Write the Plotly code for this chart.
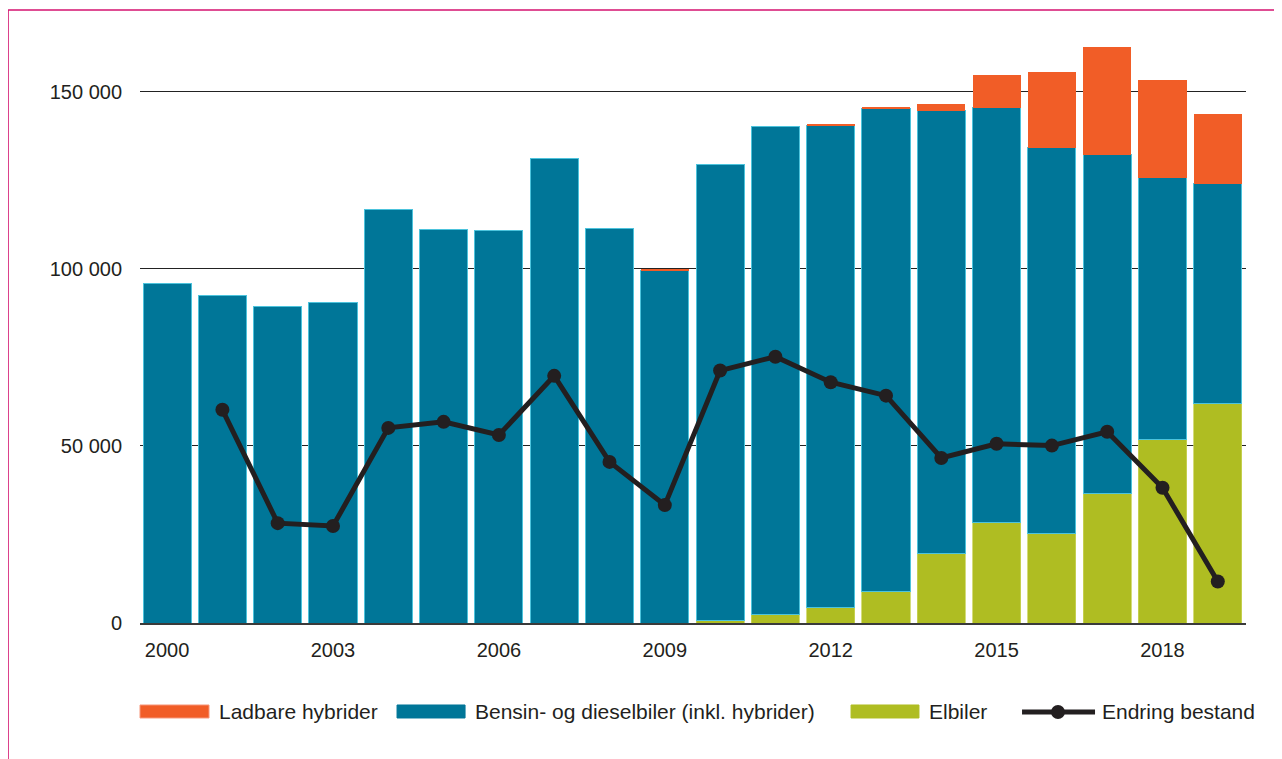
import plotly.graph_objects as go

years = list(range(2000, 2020))
elbiler = [0, 0, 0, 0, 0, 0, 0, 0, 0, 0, 700, 2300, 4500, 9000, 19500, 28500, 25400, 36700, 51700, 62100]
bensin_diesel = [95800, 92400, 89500, 90400, 116700, 111000, 110700, 131100, 111300, 99500,
                 128700, 137800, 135900, 136200, 125100, 117000, 108800, 95500, 74000, 61900]
ladbare = [0, 0, 0, 0, 0, 0, 0, 0, 0, 400, 0, 0, 600, 600, 2000, 9300, 21400, 30500, 27700, 19800]
endring_years = list(range(2001, 2020))
endring = [60200, 28200, 27400, 55100, 56800, 53100, 69800, 45500, 33300, 71300,
           75200, 68000, 64200, 46600, 50600, 50100, 54000, 38200, 11700]
xtick_vals = [2000, 2003, 2006, 2009, 2012, 2015, 2018]
ytick_vals = [0, 50000, 100000, 150000]
ytick_text = ["0", "50 000", "100 000", "150 000"]
legend_names = ["Ladbare hybrider", "Bensin- og dieselbiler (inkl. hybrider)", "Elbiler", "Endring bestand"]

C_GREEN = "#afbd22"
C_TEAL = "#007698"
C_ORANGE = "#f15d27"
C_LINE = "#231f20"
FONT = "Liberation Sans, Arial, Helvetica, sans-serif"

fig = go.Figure()
fig.add_trace(go.Bar(x=years, y=elbiler, name=legend_names[2], marker=dict(color=C_GREEN, line=dict(color="#c9d35a", width=0.8))))
fig.add_trace(go.Bar(x=years, y=bensin_diesel, name=legend_names[1], marker=dict(color=C_TEAL, line=dict(color="#4cc3dc", width=1))))
fig.add_trace(go.Bar(x=years, y=ladbare, name=legend_names[0], marker=dict(color=C_ORANGE, line=dict(color="#f7977a", width=0))))
fig.add_trace(go.Scatter(x=endring_years, y=endring, name=legend_names[3], mode="lines+markers",
                         line=dict(color=C_LINE, width=5), marker=dict(color=C_LINE, size=14)))

shapes = []
annotations = []
# pink frame
shapes.append(dict(type="line", xref="paper", yref="paper", x0=-0.1193, x1=-0.1193, y0=1.0183, y1=-0.26,
                   line=dict(color="#d4126f", width=1.5)))
shapes.append(dict(type="line", xref="paper", yref="paper", x0=-0.1193, x1=1.05, y0=1.0183, y1=1.0183,
                   line=dict(color="#d4126f", width=1.5)))

# custom legend
ly0, ly1, lyc = -0.1578, -0.1362, -0.1478
sw = [(0.0, 0.0624, C_ORANGE, "#f7977a"), (0.2324, 0.2939, C_TEAL, C_TEAL), (0.6429, 0.7043, C_GREEN, C_GREEN)]
for x0, x1, c, lc in sw:
    shapes.append(dict(type="rect", xref="paper", yref="paper", x0=x0, x1=x1, y0=ly0, y1=ly1,
                       fillcolor=c, line=dict(color=lc, width=1)))
shapes.append(dict(type="line", xref="paper", yref="paper", x0=0.7975, x1=0.8635, y0=lyc, y1=lyc,
                   line=dict(color=C_LINE, width=5)))
shapes.append(dict(type="circle", xref="paper", yref="paper", x0=0.8300 - 0.0063, x1=0.8300 + 0.0063,
                   y0=lyc - 0.0116, y1=lyc + 0.0116, fillcolor=C_LINE, line=dict(color=C_LINE, width=0)))
for xt, txt in zip([0.0696, 0.3011, 0.7116, 0.868], legend_names):
    annotations.append(dict(xref="paper", yref="paper", x=xt, y=lyc, text=txt, showarrow=False,
                            xanchor="left", yanchor="middle", font=dict(size=21, color=C_LINE, family=FONT)))

fig.update_layout(
    barmode="stack",
    bargap=0.13,
    width=1274, height=751,
    margin=dict(l=132, r=36, t=13, b=136),
    paper_bgcolor="white", plot_bgcolor="white",
    showlegend=False,
    font=dict(family=FONT, size=20, color=C_LINE),
    shapes=shapes,
    annotations=annotations,
    xaxis=dict(range=[1999.51, 2019.51], tickvals=xtick_vals, ticks="outside", ticklen=8,
               tickcolor="rgba(0,0,0,0)", showgrid=False, showline=True, linecolor="#3a3a3a", linewidth=2,
               zeroline=False, tickfont=dict(size=20, color=C_LINE)),
    yaxis=dict(range=[0, 170000], tickvals=ytick_vals, ticktext=ytick_text, ticks="outside", ticklen=13,
               tickcolor="rgba(0,0,0,0)", showgrid=True, gridcolor="#222222", gridwidth=1,
               zeroline=False, showline=False, tickfont=dict(size=20, color=C_LINE)),
)

fig.write_html("out.html")
